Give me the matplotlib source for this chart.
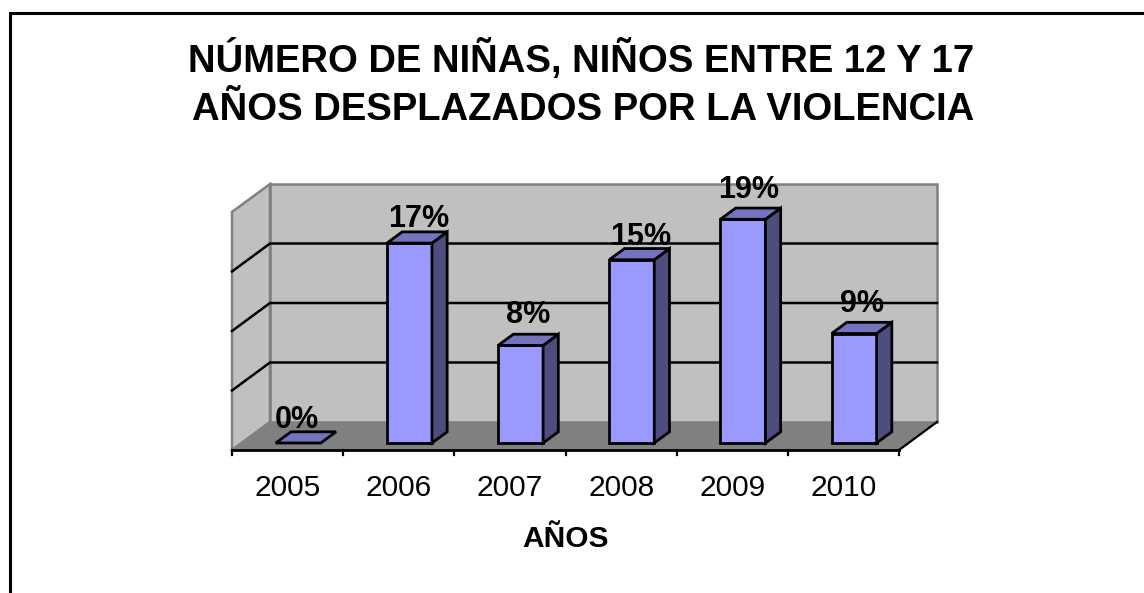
import matplotlib
matplotlib.use("Agg")
import matplotlib.pyplot as plt
from matplotlib.patches import Polygon

years = ["2005", "2006", "2007", "2008", "2009", "2010"]
values = [0.0, 16.8, 8.2, 15.4, 18.8, 9.2]
labels = ["0%", "17%", "8%", "15%", "19%", "9%"]
gridlines = [5, 10, 15]
title_top = "NÚMERO DE NIÑAS, NIÑOS ENTRE 12 Y 17"
title_bottom = "AÑOS DESPLAZADOS POR LA VIOLENCIA"
xlabel = "AÑOS"

# layout only: label nudges in px relative to the bar centre / back-top corner
label_dx = [-1, 9, 8, 9, 5.5, 8]
label_dy = [4, 5, 11, 4, 10, 10]

W, H = 1144, 593
plt.rcParams['font.family'] = ['Liberation Sans', 'DejaVu Sans']
fig = plt.figure(figsize=(W / 100, H / 100), dpi=100, facecolor="white")

# outer frame of the chart area (figure pixels, y downward)
bg = fig.add_axes([0, 0, 1, 1])
bg.set_xlim(0, W); bg.set_ylim(H, 0); bg.axis("off")
bg.plot([9.5, 9.5, W + 5], [H + 5, 12.5, 12.5], color="black", lw=2.2,
        solid_capstyle="butt", solid_joinstyle="miter")

# front plane of the 3D box: x 232..899, y 450..212 px
L, R, B, T = 232, 899, 450, 212
ax = fig.add_axes([L / W, 1 - B / H, (R - L) / W, (B - T) / H])
ax.set_xlim(-0.5, 5.5)
ax.set_ylim(0, 20)
ax.axis("off")

px_x = (R - L) / 6      # px per category
px_y = (B - T) / 20     # px per percent
DX, DY = 38, 28         # full depth of the box, in px


def pt(x, y, d=0.0):
    """Project a data point at relative depth d (0 front .. 1 back)."""
    return (x + d * DX / px_x, y + d * DY / px_y)


def poly(points, **kw):
    kw.setdefault("clip_on", False)
    ax.add_patch(Polygon(points, closed=True, **kw))


GRAY = "#C0C0C0"
BORDER = "#808080"
# back wall
poly([pt(-.5, 0, 1), pt(5.5, 0, 1), pt(5.5, 20, 1), pt(-.5, 20, 1)], fc=GRAY, ec=BORDER, lw=1.8, zorder=1)
# left wall
poly([pt(-.5, 0, 0), pt(-.5, 0, 1), pt(-.5, 20, 1), pt(-.5, 20, 0)], fc=GRAY, ec=BORDER, lw=1.8, zorder=1)
# floor
poly([pt(-.5, 0, 0), pt(5.5, 0, 0), pt(5.5, 0, 1), pt(-.5, 0, 1)], fc=BORDER, ec="none", zorder=1)
# floor edges
ax.plot(*zip(pt(5.5, 0, 0), pt(5.5, 0, 1)), color="black", lw=1.6, clip_on=False, zorder=2)
ax.plot(*zip(pt(-.5, 0, 0), pt(-.5, 0, 1)), color=BORDER, lw=1.2, clip_on=False, zorder=2)

for g in gridlines:
    ax.plot(*zip(pt(-.5, g, 0), pt(-.5, g, 1), pt(5.5, g, 1)), color="black", lw=1.8, clip_on=False, zorder=2,
            solid_joinstyle="miter")

# category axis
ax.plot([-.5, 5.5], [0, 0], color="black", lw=2.0, clip_on=False, zorder=3)
for i in range(7):
    ax.plot([i - .5, i - .5], [0, -5 / px_y], color="black", lw=1.6, clip_on=False, zorder=3)
for i, y in enumerate(years):
    ax.text(i, -46.5 / px_y, y, ha="center", va="baseline", fontsize=21.5, color="black")
ax.text(2.5, -97 / px_y, xlabel, ha="center", va="baseline", fontsize=21.5, fontweight="bold", color="black")

# bars
hw = 22.5 / px_x
D0, D1 = 0.25, 0.65
SHIFT = 1.2 / px_x
for i, (v, lab) in enumerate(zip(values, labels)):
    c = i + SHIFT
    x0, x1 = c - hw, c + hw
    kw = dict(ec="black", lw=2.0, joinstyle="miter", zorder=5)
    if v > 0:
        poly([pt(x0, 0, D0), pt(x1, 0, D0), pt(x1, v, D0), pt(x0, v, D0)], fc="#9999FF", **kw)
        poly([pt(x1, 0, D0), pt(x1, 0, D1), pt(x1, v, D1), pt(x1, v, D0)], fc="#4D4D80", **kw)
    poly([pt(x0, v, D0), pt(x1, v, D0), pt(x1, v, D1), pt(x0, v, D1)], fc="#7373BF", **kw)
    fx, _ = pt(c, v, D0)
    _, ty = pt(c, v, D1)
    ax.text(fx + label_dx[i] / px_x, ty + label_dy[i] / px_y, lab, ha="center", va="baseline",
            fontsize=22, fontweight="bold", color="black", zorder=6)

fig.text(581.5 / W, 1 - 72 / H, title_top, ha="center", va="baseline", fontsize=27.5, fontweight="bold")
fig.text(583 / W, 1 - 120.5 / H, title_bottom, ha="center", va="baseline", fontsize=27.5, fontweight="bold")

fig.savefig("out.png", dpi=100, facecolor="white")
